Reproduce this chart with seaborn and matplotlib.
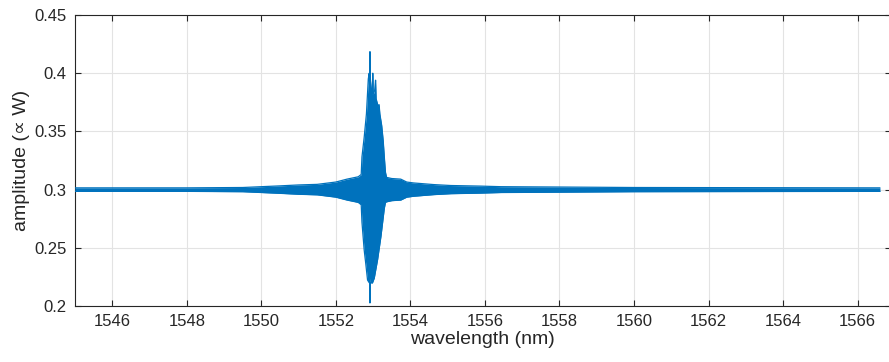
import numpy as np
import pandas as pd
import seaborn as sns
import matplotlib
matplotlib.use("Agg")
import matplotlib.pyplot as plt

# ---- data (envelope of the oscillating trace) ----
baseline = 0.3
wl_upper = [1545.0, 1548.0, 1549.5, 1550.0, 1550.5, 1551.0, 1551.5, 1552.0, 1552.3, 1552.6, 1552.68,
            1552.70, 1552.76, 1552.82, 1552.87, 1552.895, 1552.905, 1552.915, 1552.925, 1552.95,
            1552.975, 1552.99, 1553.005, 1553.04, 1553.065, 1553.08, 1553.13, 1553.16, 1553.18,
            1553.23, 1553.27, 1553.30, 1553.33, 1553.36, 1553.5, 1553.74, 1553.9, 1554.09, 1554.63,
            1555.09, 1555.89, 1556.43, 1558.05, 1560.0, 1566.6]
amp_upper = [0.0015, 0.0015, 0.0018, 0.0025, 0.0032, 0.0040, 0.0045, 0.0065, 0.0090, 0.0110, 0.0130,
             0.0280, 0.0450, 0.0650, 0.0950, 0.1000, 0.0900, 0.1185, 0.0950, 0.0850,
             0.0820, 0.1000, 0.0820, 0.0850, 0.0940, 0.0780, 0.0720, 0.0730, 0.0650,
             0.0550, 0.0420, 0.0280, 0.0150, 0.0105, 0.0095, 0.0090, 0.0065, 0.0057, 0.0043,
             0.0035, 0.0030, 0.0025, 0.0022, 0.0018, 0.0015]
wl_lower = [1545.0, 1548.0, 1549.5, 1550.0, 1550.5, 1551.0, 1551.5, 1552.0, 1552.3, 1552.6, 1552.68,
            1552.70, 1552.76, 1552.80, 1552.85, 1552.895, 1552.905, 1552.915, 1552.925, 1552.98,
            1553.03, 1553.12, 1553.21, 1553.30, 1553.33, 1553.36, 1553.5, 1553.74, 1553.9, 1554.09,
            1554.63, 1555.09, 1555.89, 1556.43, 1558.05, 1560.0, 1566.6]
amp_lower = [0.0015, 0.0015, 0.0018, 0.0025, 0.0032, 0.0040, 0.0045, 0.0065, 0.0090, 0.0110, 0.0130,
             0.0280, 0.0520, 0.0630, 0.0777, 0.0800, 0.0760, 0.0974, 0.0800, 0.0802,
             0.0760, 0.0600, 0.0400, 0.0160, 0.0110, 0.0105, 0.0095, 0.0090, 0.0065, 0.0057,
             0.0043, 0.0035, 0.0030, 0.0025, 0.0022, 0.0018, 0.0015]
xticks = [1546, 1548, 1550, 1552, 1554, 1556, 1558, 1560, 1562, 1564, 1566]
yticks = [0.2, 0.25, 0.3, 0.35, 0.4, 0.45]
ytick_labels = ["0.2", "0.25", "0.3", "0.35", "0.4", "0.45"]

up = pd.DataFrame({"wl": wl_upper, "y": baseline + np.array(amp_upper)})
lo = pd.DataFrame({"wl": wl_lower, "y": baseline - np.array(amp_lower)})

sns.set_theme(style="white")
plt.rcParams["font.family"] = ["Liberation Sans", "DejaVu Sans"]

blue = "#0072BD"
axcol = "#262626"

fig = plt.figure(figsize=(8.89, 3.62), dpi=100)
ax = fig.add_axes([75 / 889, 56 / 362, 1 - 75 / 889 + 0.002, (306 - 15) / 362])

# fill the envelope of the dense oscillation
grid = np.union1d(up["wl"].values, lo["wl"].values)
yu = np.interp(grid, up["wl"], up["y"])
yl = np.interp(grid, lo["wl"], lo["y"])
ax.fill_between(grid, yl, yu, color=blue, linewidth=0, zorder=3)
sns.lineplot(data=up, x="wl", y="y", ax=ax, color=blue, linewidth=0.9, zorder=3)
sns.lineplot(data=lo, x="wl", y="y", ax=ax, color=blue, linewidth=0.9, zorder=3)

ax.set_xlim(1545.0, 1566.89)
ax.set_ylim(0.2, 0.45)
ax.set_xticks(xticks)
ax.set_xticklabels([str(t) for t in xticks])
ax.set_yticks(yticks)
ax.set_yticklabels(ytick_labels)

ax.grid(True, color="#e3e3e3", linewidth=0.8, zorder=0)
ax.set_axisbelow(True)
for s in ax.spines.values():
    s.set_color(axcol)
    s.set_linewidth(0.8)
ax.spines["right"].set_visible(False)
ax.tick_params(axis="both", which="both", direction="in", length=4, width=0.8,
               colors=axcol, labelsize=12, top=True, right=True, bottom=True, left=True,
               labelcolor=axcol, pad=6)
ax.set_xlabel("wavelength (nm)", fontsize=14, color=axcol, labelpad=1)
ax.set_ylabel("amplitude (\u221d W)", fontsize=14, color=axcol, labelpad=3)

fig.savefig("out.png", dpi=100)
